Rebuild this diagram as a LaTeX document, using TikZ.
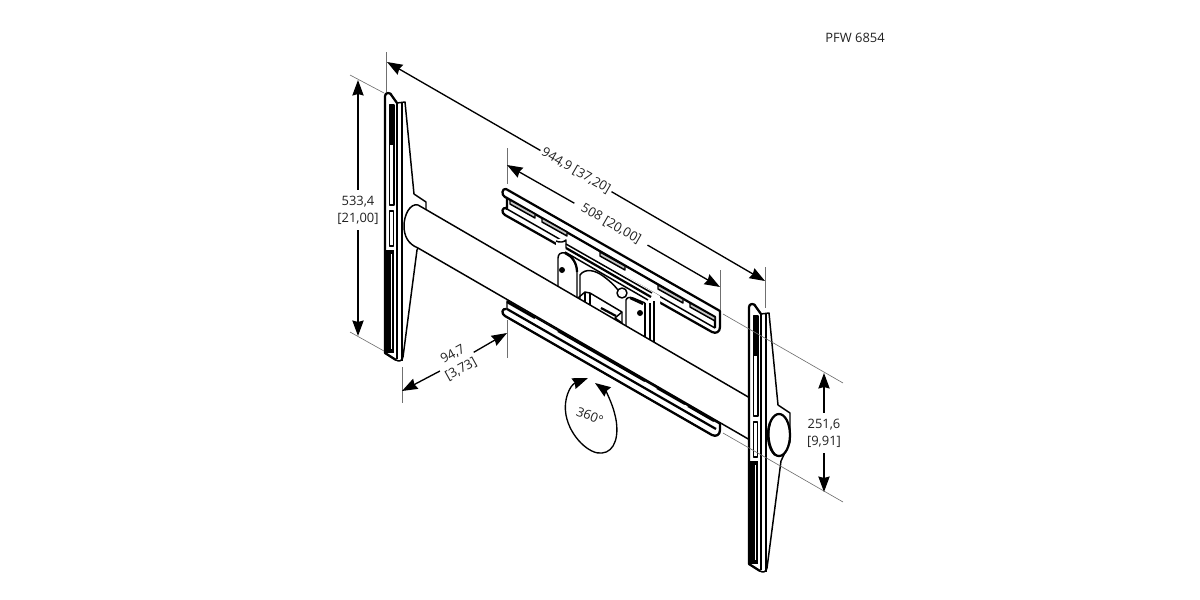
\documentclass[tikz,border=0pt]{standalone}
\usepackage{fontspec}
\setmainfont{Open Sans}
\usetikzlibrary{arrows.meta}
\definecolor{colorExt}{HTML}{707070}
\definecolor{colorSlot}{HTML}{C4C4C4}
\definecolor{colorText}{HTML}{202020}
\tikzset{
    outline/.style={black,line width=1.05pt,line join=round},
    heavy/.style={black,line width=1.6pt,line join=round},
    extline/.style={colorExt,line width=0.45pt},
    dimarrow/.style={black,line width=0.95pt,-{Stealth[length=11pt,width=8pt,inset=1pt]}},
    dimtext/.style={text=colorText,font=\fontsize{9.2}{12}\selectfont,align=center,inner xsep=1.5pt,inner ysep=4pt},
}
% one upright with its slots, hub end not included
\newcommand{\uprightbar}{
    \draw[outline,fill=white] (385,96) .. controls (385,92) and (391,92) .. (392,96) -- (397,103) -- (405,102) -- (414,194) -- (426,202) -- (426,231) -- (417,250) -- (403,357) .. controls (402,361) and (399,362) .. (396,360) -- (385,353) -- cycle;
    \draw[heavy] (385,96) -- (385,353) -- (396,360);
    \draw[heavy] (385,96) .. controls (385,92) and (391,92) .. (392,96) -- (397,103);
    \draw[outline] (397,103) -- (397,359);
    \draw[outline] (402,102) -- (402,361);
    \draw[outline] (389.5,105) rectangle (394,205);
    \fill (389.5,105) rectangle (394,145);
    \draw[outline] (389.5,211) rectangle (393.5,246);
    \fill (385,250) rectangle (394,353);
    \fill[white] (391,254) rectangle (392.3,349);
}
\begin{document}
\begin{tikzpicture}[x=0.25mm,y=-0.25mm]
    \useasboundingbox (0,0) rectangle (1200,600);
    % upper bracket
    \draw[heavy,fill=white] (506,189) -- (720,311) -- (720,327) .. controls (720,332) and (716,334) .. (712,332) -- (505,215) .. controls (501,213) and (502,207) .. (506,208) -- (507,209) -- (507,198) -- (505,197) .. controls (501,195) and (502,188) .. (506,189) -- cycle;
    \draw[heavy] (507,198) -- (715,317) -- (715,328);
    \draw[outline] (507,209) -- (715,328);
    % mount behind the tube
    \fill[white] (556,240) -- (562,238) -- (660,296) -- (660,345) -- (556,285) -- cycle;
    \foreach \ax/\ay in {510/200,542/218,600/252,658/285,690/303}
        \draw[outline,fill=colorSlot] (\ax,\ay) -- ++(25,14) -- ++(0,4) -- ++(-25,-14) -- cycle;
    \draw[outline] (566,244) -- (652,293);
    \draw[heavy] (566,248) -- (651,297);
    \draw[outline] (565,252) -- (648,300);
    \draw[outline] (556,241) .. controls (560,243) and (564,242) .. (566,240) -- (566,248);
    \draw[outline,fill=white] (558,290) -- (558,258) .. controls (558,254) and (561,252) .. (565,253) .. controls (572,256) and (577,263) .. (577,272) -- (577,300);
    \draw[heavy] (565,253) .. controls (572,256) and (577,263) .. (577,272);
    \fill (562,270) circle (3);
    \draw[outline] (580,302) -- (580,275) .. controls (585,268) and (595,270) .. (603,276) .. controls (610,281) and (614,285) .. (618,290);
    \draw[outline,fill=white] (622,293) circle (5);
    \draw[outline] (626,335) -- (626,300) .. controls (627,297) and (630,297) .. (633,298) -- (645,303);
    \draw[heavy] (630,298) -- (643,304);
    \draw[outline] (645,303) -- (645,345);
    \draw[outline] (650,303) -- (650,345);
    \draw[outline] (654,301) -- (654,345);
    \fill (640,313) circle (3);
    \draw[outline] (578,298) -- (585,292) -- (590,293) -- (622,312) -- (622,326);
    \draw[outline] (590,293) -- (590,305);
    \draw[outline] (585,292) -- (585,303);
    \draw[heavy] (601,308) -- (616,316);
    \draw[outline] (622,312) -- (615,318) -- (622,323);
    % left upright, tube, lower bracket, right upright
    \uprightbar
    \draw[outline,fill=white] (418,205) -- (425,209) -- (750,398) -- (750,440) -- (418,248) .. controls (408,244) and (404,236) .. (404,226) .. controls (404,215) and (410,203) .. (418,205);
    \draw[outline,fill=white] (507,301) -- (720,424) -- (720,430) .. controls (720,435) and (716,437) .. (712,435) -- (505,316) .. controls (501,314) and (502,308) .. (506,309) -- (507,309) -- cycle;
    \draw[heavy] (505,316) -- (712,435) .. controls (716,437) and (720,435) .. (720,430) -- (720,423);
    \draw[heavy] (505,316) .. controls (501,314) and (502,308) .. (506,309);
    \draw[heavy] (507,309) -- (716,429);
    \draw[heavy] (507,302) -- (535,318);
    \draw[heavy] (558,331) -- (645,381);
    \draw[heavy] (657,388) -- (685,404);
    \draw[heavy] (688,406) -- (714,421);
    \begin{scope}[shift={(364,211)}]
        \uprightbar
    \end{scope}
    \draw[heavy,fill=white] (779,435) ellipse (11 and 21);
    \draw[heavy] (770,423) .. controls (767,432) and (768,447) .. (775,455);
    % extension lines
    \draw[extline] (386,52) -- (386,92);
    \draw[extline] (765,267) -- (765,308);
    \draw[extline] (350,75) -- (384,93);
    \draw[extline] (350,332) -- (384,351);
    \draw[extline] (507,148) -- (507,184);
    \draw[extline] (720,270) -- (720,310);
    \draw[extline] (402,367) -- (402,403);
    \draw[extline] (507,320) -- (507,358);
    \draw[extline] (723,314) -- (843,383);
    \draw[extline] (723,433) -- (843,502);
    % dimensions
    \coordinate (widthA) at (387,62);
    \coordinate (widthB) at (765,281);
    \node[dimtext,rotate=-30] (widthText) at (576,171) {944,9 [37,20]};
    \draw[dimarrow] (widthText) -- (widthA);
    \draw[dimarrow] (widthText) -- (widthB);
    \coordinate (slotA) at (507,165);
    \coordinate (slotB) at (720,287);
    \node[dimtext,rotate=-30,inner xsep=6pt] (slotText) at (611,224) {508 [20,00]};
    \draw[dimarrow] (slotText) -- (slotA);
    \draw[dimarrow] (slotText) -- (slotB);
    \coordinate (heightA) at (358,80);
    \coordinate (heightB) at (358,336);
    \node[dimtext] (heightText) at (358,210) {533,4\\{}[21,00]};
    \draw[dimarrow] (heightText) -- (heightA);
    \draw[dimarrow] (heightText) -- (heightB);
    \coordinate (depthA) at (402,391);
    \coordinate (depthB) at (507,333);
    \node[dimtext,rotate=29] (depthText) at (457,362) {94,7\\{}[3,73]};
    \draw[dimarrow] (depthText) -- (depthA);
    \draw[dimarrow] (depthText) -- (depthB);
    \coordinate (hubA) at (824,373);
    \coordinate (hubB) at (824,492);
    \node[dimtext] (hubText) at (824,433) {251,6\\{}[9,91]};
    \draw[dimarrow] (hubText) -- (hubA);
    \draw[dimarrow] (hubText) -- (hubB);
    % rotation mark
    \draw[line width=0.95pt,{Stealth[length=11pt,width=8pt,inset=1pt]}-{Stealth[length=11pt,width=8pt,inset=1pt]}] (588,378) .. controls (570,385) and (563,400) .. (566,415) .. controls (570,437) and (590,455) .. (602,453) .. controls (615,452) and (620,435) .. (615,415) .. controls (612,402) and (605,390) .. (595,383);
    \node[dimtext,rotate=-22] (turnText) at (590,416) {360°};
    \node[dimtext] (modelText) at (855,38) {PFW 6854};
\end{tikzpicture}
\end{document}
